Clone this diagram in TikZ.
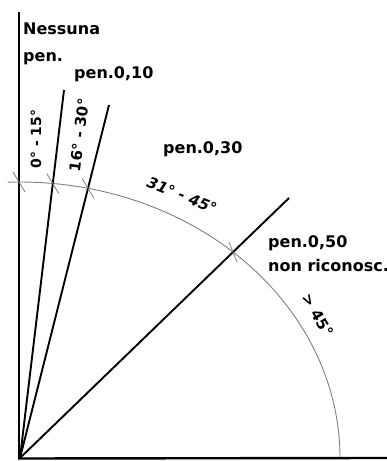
\documentclass[tikz,border=0pt]{standalone}
\usepackage{fontspec}
\setmainfont{DejaVu Sans}
\usetikzlibrary{calc}
\begin{document}
\begin{tikzpicture}[x=1pt,y=1pt,
  lab/.style={font=\fontsize{16}{19}\selectfont\bfseries, inner sep=0pt},
  axis/.style={line width=2.4pt, black},
  ray/.style={line width=1.9pt, black},
  arcline/.style={line width=0.9pt, black!50},
  tick/.style={line width=0.8pt, black!50}]
\useasboundingbox (0,0) rectangle (387,461);
\coordinate (O) at (20,3);
\coordinate (Ytop) at (19,449);
\coordinate (Xend) at (387,3);
\coordinate (A1) at (64,371);
\coordinate (A2) at (109,356);
\coordinate (A3) at (289,263);
% arc
\draw[arcline] (340,3) arc[start angle=0,end angle=92.2,x radius=320,y radius=276];
% axes
\draw[axis] (19,2.5) -- (Ytop);
\draw[axis] (18,2.5) -- (Xend);
% rays
\draw[ray] (O) -- (A1);
\draw[ray] (O) -- (A2);
\draw[ray] (O) -- (A3);
% ticks
\coordinate (T0) at (19,279);
\coordinate (T1) at (52.8,277.5);
\coordinate (T2) at (88,272.7);
\coordinate (T3) at (233,209);
\draw[tick] ($(T0)+(-6,10)$) -- ($(T0)+(6,-10)$);
\draw[tick] ($(T1)+(-6,10)$) -- ($(T1)+(6,-10)$);
\draw[tick] ($(T2)+(-6,10)$) -- ($(T2)+(6,-10)$);
\draw[tick] ($(T3)+(-4,10)$) -- ($(T3)+(4,-10)$);
% labels
\node[lab, anchor=base west] (n1) at (23,426) {Nessuna};
\node[lab, anchor=base west] (n2) at (23,399) {pen.};
\node[lab, anchor=base west] (n3) at (74,382) {pen.0,10};
\node[lab, anchor=base west] (n4) at (163,307) {pen.0,30};
\node[lab, anchor=base west] (n5) at (268,213) {pen.0,50};
\node[lab, anchor=base west] (n6) at (268,189) {non riconosc.};
\node[lab, rotate=90, font=\fontsize{14}{17}\selectfont\bfseries] (r1) at (36,322) {0° - 15°};
\node[lab, rotate=83, font=\fontsize{15}{18}\selectfont\bfseries] (r2) at (79,326) {16° - 30°};
\node[lab, rotate=-22, font=\fontsize{15}{18}\selectfont\bfseries\itshape] (r3) at (182,266) {31° - 45°};
\node[lab, rotate=-60, font=\fontsize{15}{18}\selectfont\bfseries] (r4) at (318,146) {> 45°};
\end{tikzpicture}
\end{document}
